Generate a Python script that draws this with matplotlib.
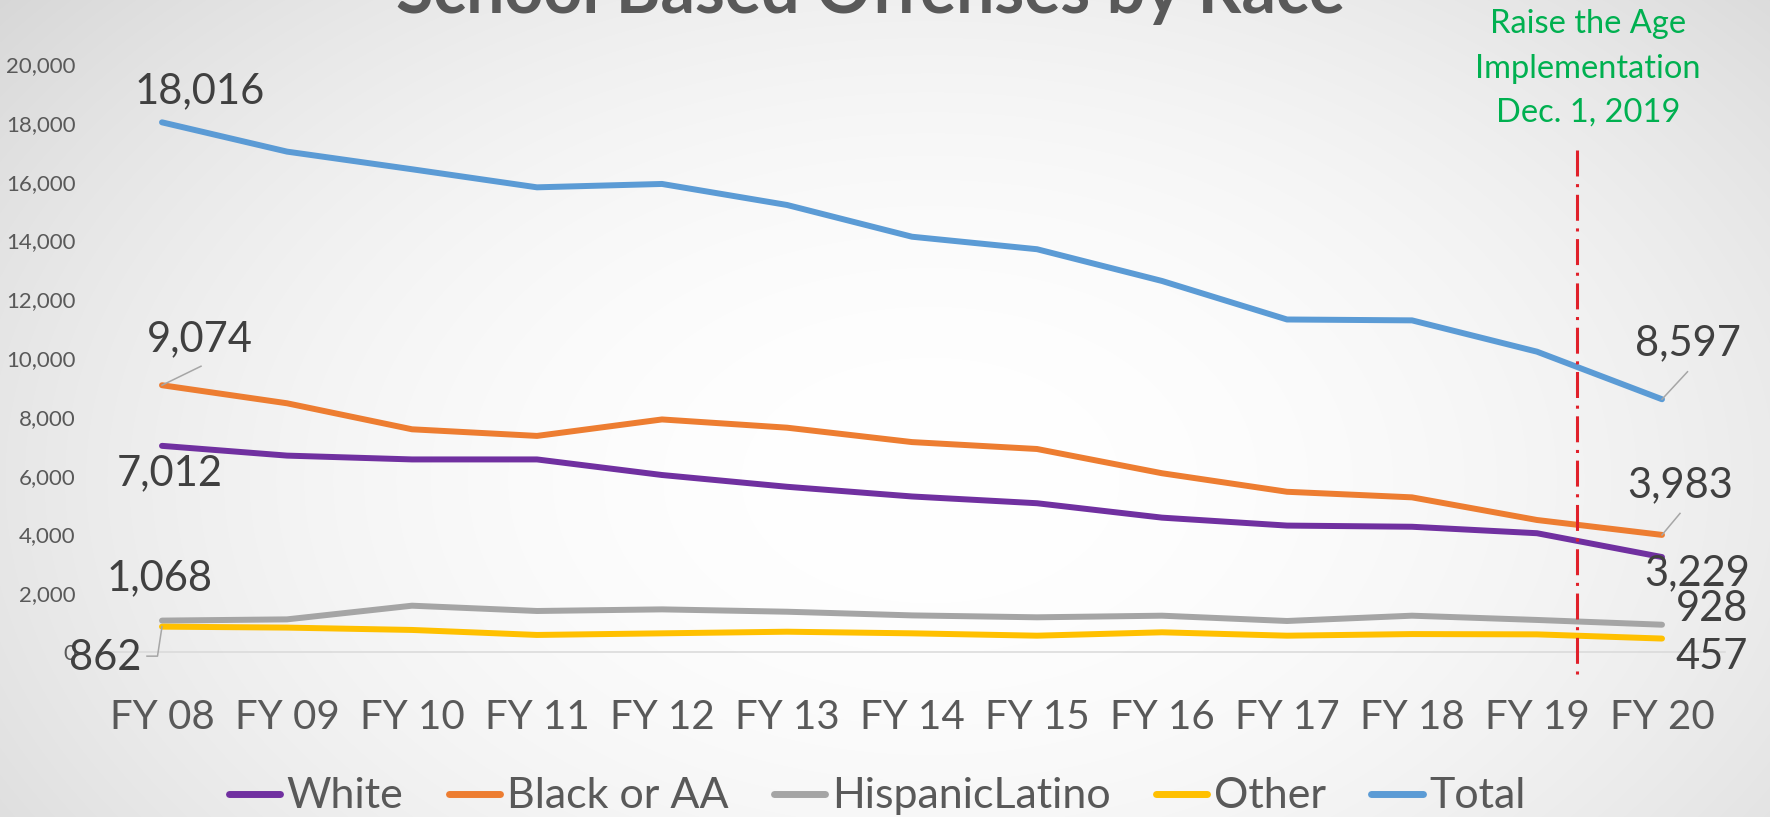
import numpy as np
import matplotlib.pyplot as plt
from matplotlib.lines import Line2D
from matplotlib.transforms import IdentityTransform

plt.rcParams['font.family'] = ['Lato', 'DejaVu Sans']

years = ['FY 08', 'FY 09', 'FY 10', 'FY 11', 'FY 12', 'FY 13', 'FY 14',
         'FY 15', 'FY 16', 'FY 17', 'FY 18', 'FY 19', 'FY 20']
white    = [7012, 6680, 6550, 6550, 6020, 5620, 5290, 5060, 4570, 4300, 4260, 4040, 3229]
black    = [9074, 8460, 7575, 7350, 7910, 7630, 7140, 6905, 6080, 5450, 5260, 4490, 3983]
hispanic = [1068, 1110, 1575, 1395, 1450, 1370, 1245, 1180, 1235, 1055, 1235, 1090, 928]
other    = [862, 830, 750, 580, 635, 690, 635, 555, 670, 555, 610, 600, 457]
total    = [18016, 17020, 16420, 15805, 15920, 15205, 14125, 13700, 12620, 11310, 11280, 10215, 8597]

series = [('White', white, '#7030A0'),
          ('Black or AA', black, '#ED7D31'),
          ('HispanicLatino', hispanic, '#A5A5A5'),
          ('Other', other, '#FFC000'),
          ('Total', total, '#5B9BD5')]

# raise the age date, in category units (between FY 19 and FY 20)
rta_x = 11.32
rta_text = ['Raise the Age', 'Implementation', 'Dec. 1, 2019']

W, H = 1770, 817
fig = plt.figure(figsize=(W / 100, H / 100), dpi=100)

# soft radial background
bg = fig.add_axes([0, 0, 1, 1], zorder=-10)
yy, xx = np.mgrid[0:H, 0:W]
r = np.sqrt(((xx - 930) / 1000.0) ** 2 + ((yy - 480) / 650.0) ** 2)
shade = 1.0 - 0.11 * np.clip(r, 0, 1.4) ** 2
bg.imshow(np.dstack([shade] * 3), aspect='auto', extent=(0, 1, 0, 1))
bg.axis('off')

ax = fig.add_axes([99.5 / W, 1 - 652 / H, 1625 / W, 588 / H])
ax.patch.set_alpha(0)

x = np.arange(len(years))
for name, vals, col in series:
    ax.plot(x, vals, color=col, lw=4.3, solid_capstyle='round',
            solid_joinstyle='round', label=name, clip_on=False)

ax.plot([rta_x, rta_x], [17075, -850], color='#E0202A', lw=2.2,
        linestyle=(0, (8.5, 2.5, 1.0, 2.5)), clip_on=False, zorder=5)

ax.set_xlim(-0.5, len(years) - 0.5)
ax.set_ylim(0, 20000)
ax.set_yticks(range(0, 20001, 2000))
ax.set_yticklabels([f'{v:,}' for v in range(0, 20001, 2000)])
ax.set_xticks(x)
ax.set_xticklabels(years)
ax.tick_params(axis='y', length=0, pad=17, labelsize=16, labelcolor='#595959')
ax.tick_params(axis='x', length=0, pad=34, labelsize=29, labelcolor='#595959')
for s in ['top', 'left', 'right']:
    ax.spines[s].set_visible(False)
ax.spines['bottom'].set_color('#D9D9D9')
ax.spines['bottom'].set_linewidth(1.1)

# data labels: (values, index, dx, dy, leader offsets) in pixels
labels = [
    (total, 0, 38, 31, None),
    (black, 0, 38, 46, [(0, 0), (39, 19)]),
    (white, 0, 8, -27, None),
    (hispanic, 0, -2, 42, None),
    (other, 0, -57, -31, [(0, 0), (-4.5, -29.5), (-15, -29.5)]),
    (total, 12, 26, 56, [(0, 0), (25.5, 27.5)]),
    (black, 12, 18, 50, [(0, 0), (18, 21.5)]),
    (white, 12, 35, -16, None),
    (hispanic, 12, 50, 16, None),
    (other, 12, 50, -18, None),
]
for vals, i, dx, dy, leader in labels:
    ax.annotate(f'{vals[i]:,}', (i, vals[i]), xytext=(dx, dy),
                textcoords='offset pixels', ha='center', va='center',
                fontsize=30, color='#404040', annotation_clip=False, zorder=6)
    if leader:
        px, py = ax.transData.transform((i, vals[i]))
        fig.add_artist(Line2D([px + a for a, b in leader], [py + b for a, b in leader],
                              transform=IdentityTransform(), color='#A6A6A6', lw=1.1))

fig.text(871 / W, 1 - 13 / H, 'School Based Offenses by Race', ha='center',
         va='baseline', fontsize=49, fontweight='bold', color='#595959')

for k, line in enumerate(rta_text):
    fig.text(1588 / W, 1 - (33 + 44.5 * k) / H, line, ha='center', va='baseline',
             fontsize=23.5, color='#00B050')

fig.legend(loc='center', bbox_to_anchor=(877 / W, 1 - 796 / H), ncol=5,
           frameon=False, fontsize=31, handlelength=1.2, handletextpad=0.15,
           columnspacing=1.05, labelcolor='#595959',
           handleheight=0.5)
for h in fig.legends[0].get_lines():
    h.set_linewidth(5)

fig.savefig('out.png', dpi=100)
